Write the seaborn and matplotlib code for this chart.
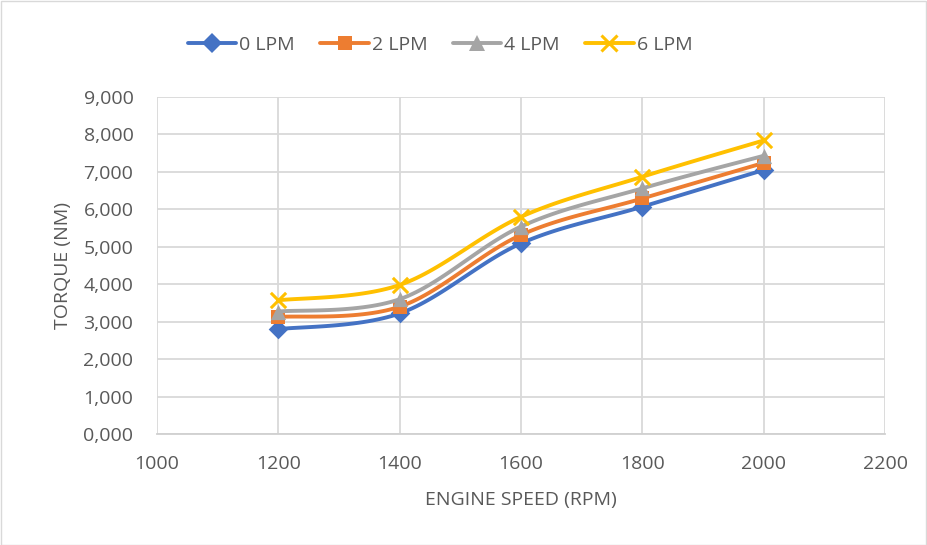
import numpy as np
import pandas as pd
import matplotlib
matplotlib.use("Agg")
import matplotlib.pyplot as plt
from matplotlib.lines import Line2D
from matplotlib.patches import Rectangle
import seaborn as sns

speeds = [1200, 1400, 1600, 1800, 2000]
series_names = ["0 LPM", "2 LPM", "4 LPM", "6 LPM"]
torque_0 = [2800, 3220, 5090, 6070, 7050]
torque_2 = [3125, 3400, 5315, 6290, 7240]
torque_4 = [3270, 3600, 5540, 6560, 7430]
torque_6 = [3570, 3980, 5800, 6870, 7840]
y_ticks = [0, 1000, 2000, 3000, 4000, 5000, 6000, 7000, 8000, 9000]
y_labels = ["0,000", "1,000", "2,000", "3,000", "4,000", "5,000", "6,000", "7,000", "8,000", "9,000"]
x_ticks = [1000, 1200, 1400, 1600, 1800, 2000, 2200]

colors = ["#4472C4", "#ED7D31", "#A5A5A5", "#FFC000"]
markers = ["D", "s", "^", "x"]
msizes = [10, 10, 11, 11]

sns.set_theme(style="white")
plt.rcParams["font.family"] = ["Open Sans", "DejaVu Sans"]

df = pd.DataFrame({
    "speed": speeds * 4,
    "torque": torque_0 + torque_2 + torque_4 + torque_6,
    "series": sum([[n] * len(speeds) for n in series_names], []),
})

fig = plt.figure(figsize=(9.27, 5.45), dpi=100)
ax = fig.add_axes([157 / 927, 1 - 434 / 545, (885 - 157) / 927, (434 - 97) / 545])


def smooth(x, y, n=30, t=1 / 6):
    # Excel-like smoothing: cubic Bezier with Catmull-Rom control points
    x = np.asarray(x, float)
    y = np.asarray(y, float)
    px, py = [], []
    for i in range(len(x) - 1):
        i0 = max(i - 1, 0)
        i3 = min(i + 2, len(x) - 1)
        c1 = (x[i] + (x[i + 1] - x[i0]) * t, y[i] + (y[i + 1] - y[i0]) * t)
        c2 = (x[i + 1] - (x[i3] - x[i]) * t, y[i + 1] - (y[i3] - y[i]) * t)
        s = np.linspace(0, 1, n)
        bx = (1 - s) ** 3 * x[i] + 3 * (1 - s) ** 2 * s * c1[0] + 3 * (1 - s) * s ** 2 * c2[0] + s ** 3 * x[i + 1]
        by = (1 - s) ** 3 * y[i] + 3 * (1 - s) ** 2 * s * c1[1] + 3 * (1 - s) * s ** 2 * c2[1] + s ** 3 * y[i + 1]
        px.extend(bx)
        py.extend(by)
    return np.array(px), np.array(py)


z = 3
for name, c, m, ms in zip(series_names, colors, markers, msizes):
    sub = df[df["series"] == name]
    sx, sy = smooth(sub["speed"], sub["torque"])
    sns.lineplot(x=sx, y=sy, ax=ax, color=c, lw=2.8, sort=False, zorder=z)
    sns.scatterplot(x=sub["speed"], y=sub["torque"], ax=ax, color=c, marker=m,
                    s=ms ** 2, linewidth=2.2 if m == "x" else 0,
                    edgecolor=c if m != "x" else None, zorder=z + 1)
    z += 2

ax.set_xlim(1000, 2200)
ax.set_ylim(0, 9000)
ax.set_xticks(x_ticks)
ax.set_xticklabels([str(v) for v in x_ticks])
ax.set_yticks(y_ticks)
ax.set_yticklabels(y_labels)
ax.grid(True, color="#D9D9D9", lw=1.3)
ax.set_axisbelow(True)
for s in ["top", "right", "left"]:
    ax.spines[s].set_visible(False)
ax.spines["bottom"].set_color("#D0D0D0")
ax.spines["bottom"].set_linewidth(1.3)
ax.tick_params(axis="x", length=0, labelsize=14, colors="#595959", pad=15)
ax.tick_params(axis="y", length=0, labelsize=14, colors="#595959", pad=17)
ax.set_xlabel("ENGINE SPEED (RPM)", fontsize=14, color="#595959", labelpad=13)
ax.set_ylabel("TORQUE (NM)", fontsize=14, color="#595959", labelpad=8)

handles = [Line2D([0], [0], color=c, lw=2.8, marker=m, markersize=ms,
                  markeredgewidth=2.2 if m == "x" else 0, markeredgecolor=c)
           for c, m, ms in zip(colors, markers, msizes)]
fig.legend(handles, series_names, loc="center", bbox_to_anchor=(440 / 927, 1 - 45 / 545),
           ncol=4, frameon=False, fontsize=14, labelcolor="#595959",
           handlelength=2.5, handletextpad=0.15, columnspacing=1.3)

fig.add_artist(Rectangle((0.5 / 927, 0.5 / 545), 1 - 1.5 / 927, 1 - 1.5 / 545,
                         transform=fig.transFigure, fill=False, edgecolor="#D9D9D9", lw=1))

fig.savefig("out.png", dpi=100, facecolor="white")
